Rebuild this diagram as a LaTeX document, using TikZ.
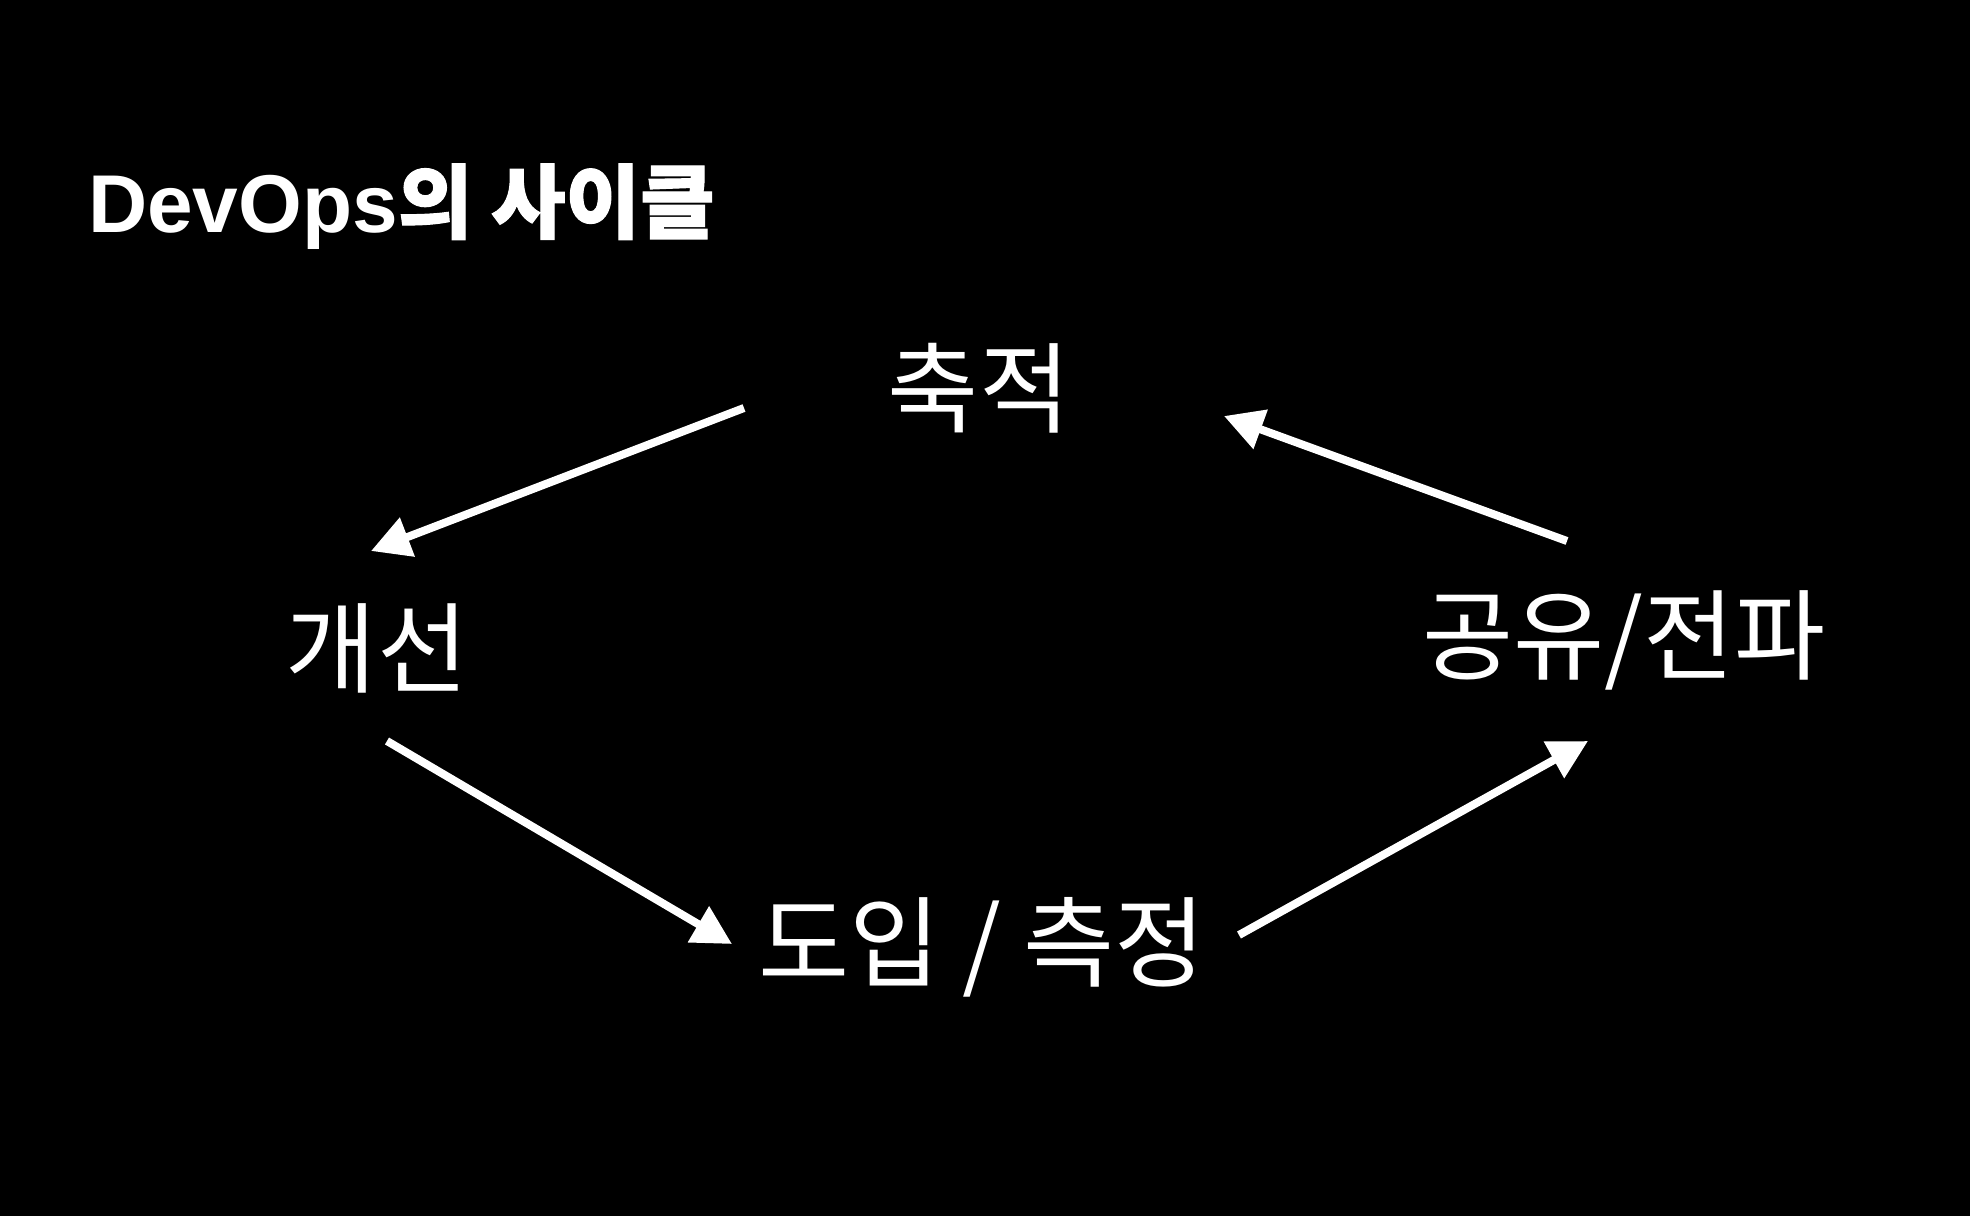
\documentclass[tikz,border=0pt]{standalone}
\usepackage{fontspec}
\usetikzlibrary{arrows.meta}
\setmainfont{Liberation Sans}
\newfontfamily\kr{Noto Sans CJK KR}
\newfontfamily\krb{Noto Sans CJK KR}[FakeBold=1.3]
\newfontfamily\latb{Liberation Sans}
\begin{document}
\begin{tikzpicture}[x=1pt,y=-1pt,
  lbl/.style={text=white,inner sep=0pt,anchor=center,font=\kr\fontsize{99}{110}\selectfont},
  flow/.style={draw=white,line width=8pt,-{Triangle[length=39pt,width=40pt]}}]
\fill[black] (0,0) rectangle (1970,1216);
\useasboundingbox (0,0) rectangle (1970,1216);
\node[anchor=base west,inner sep=0pt,text=white] (title) at (88,232)
  {\fontsize{82}{90}\selectfont\latb\bfseries DevOps{\krb\fontsize{81}{90}\selectfont 의 사이클}};
\node[lbl] (acc) at (979,388) {축적};
\node[lbl] (imp) at (377,648) {개선};
\node[lbl] (share) at (1624,640) {공유/전파};
\node[lbl] (intro) at (982,947) {도입 / 측정};
\coordinate (a1s) at (744,408);
\coordinate (a1e) at (371,551);
\coordinate (a2s) at (387,741);
\coordinate (a2e) at (732,944);
\coordinate (a3s) at (1239,935);
\coordinate (a3e) at (1588,741);
\coordinate (a4s) at (1567,541);
\coordinate (a4e) at (1224,416);
\draw[flow] (a1s) -- (a1e);
\draw[flow] (a2s) -- (a2e);
\draw[flow] (a3s) -- (a3e);
\draw[flow] (a4s) -- (a4e);
\end{tikzpicture}
\end{document}
